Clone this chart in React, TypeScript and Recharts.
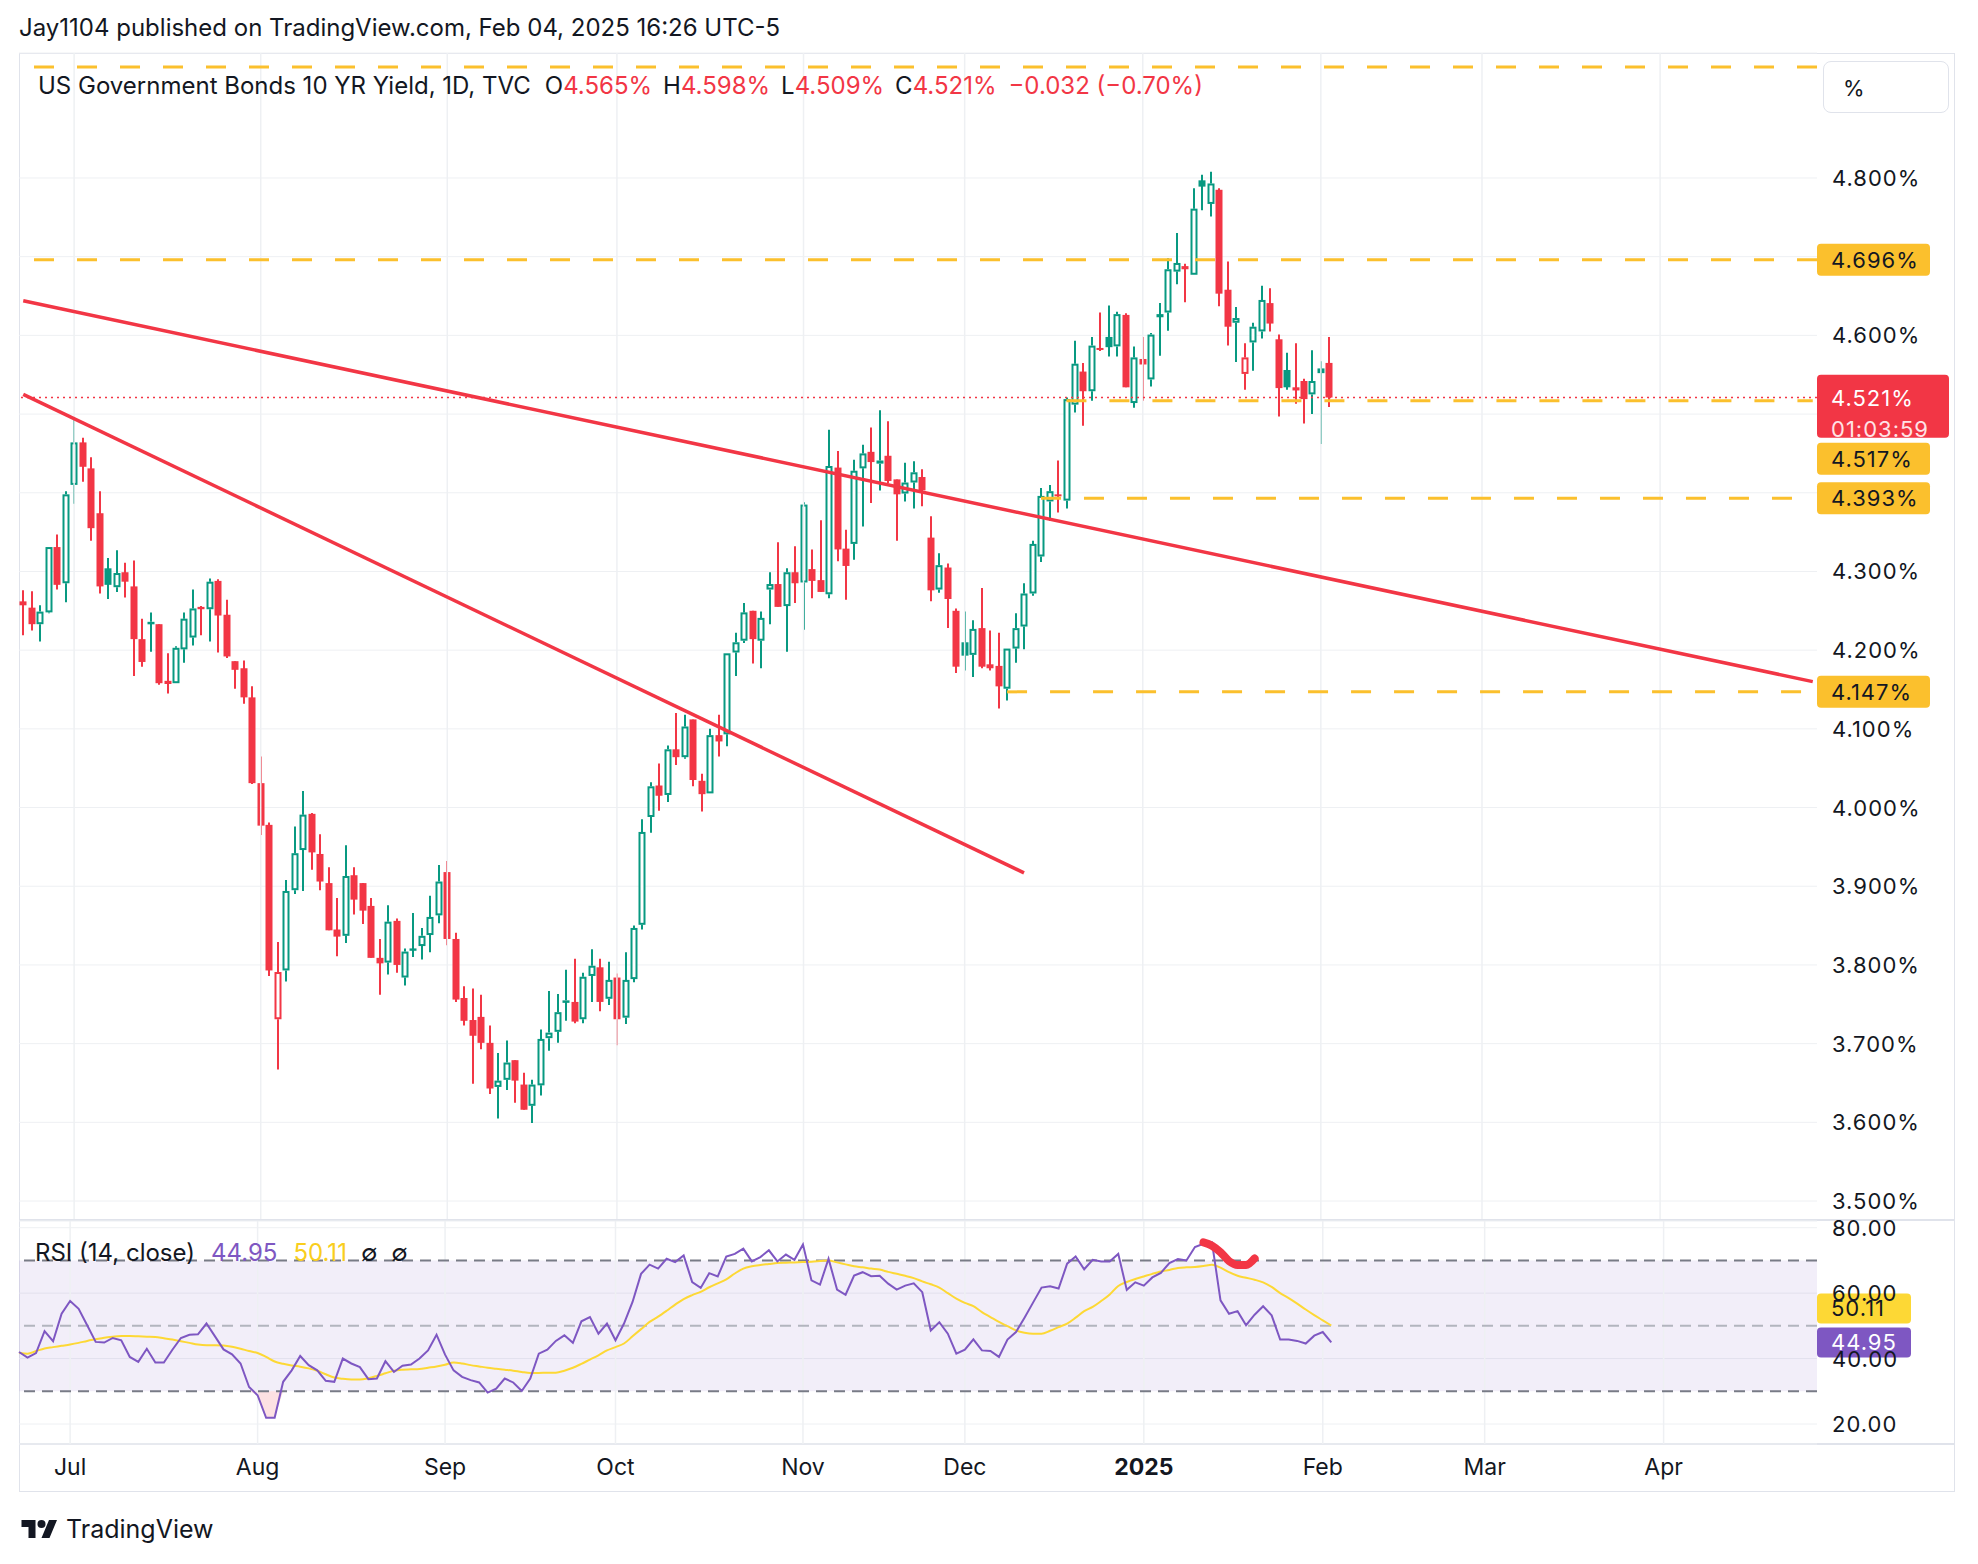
import React from 'react';
import { ComposedChart, Bar, Line, Area, XAxis, YAxis, CartesianGrid, ReferenceLine, ReferenceArea } from 'recharts';

// trading days shown (Jun 21 2024 .. Feb 4 2025)
const dates = [
  'Jun21', 'Jun24', 'Jun25', 'Jun26', 'Jun27', 'Jun28',
  'Jul1', 'Jul2', 'Jul3', 'Jul5', 'Jul8', 'Jul9', 'Jul10', 'Jul11', 'Jul12', 'Jul15', 'Jul16', 'Jul17', 'Jul18', 'Jul19', 'Jul22', 'Jul23', 'Jul24', 'Jul25', 'Jul26', 'Jul29', 'Jul30', 'Jul31',
  'Aug1', 'Aug2', 'Aug5', 'Aug6', 'Aug7', 'Aug8', 'Aug9', 'Aug12', 'Aug13', 'Aug14', 'Aug15', 'Aug16', 'Aug19', 'Aug20', 'Aug21', 'Aug22', 'Aug23', 'Aug26', 'Aug27', 'Aug28', 'Aug29', 'Aug30',
  'Sep3', 'Sep4', 'Sep5', 'Sep6', 'Sep9', 'Sep10', 'Sep11', 'Sep12', 'Sep13', 'Sep16', 'Sep17', 'Sep18', 'Sep19', 'Sep20', 'Sep23', 'Sep24', 'Sep25', 'Sep26', 'Sep27', 'Sep30',
  'Oct1', 'Oct2', 'Oct3', 'Oct4', 'Oct7', 'Oct8', 'Oct9', 'Oct10', 'Oct11', 'Oct15', 'Oct16', 'Oct17', 'Oct18', 'Oct21', 'Oct22', 'Oct23', 'Oct24', 'Oct25', 'Oct28', 'Oct29', 'Oct30', 'Oct31',
  'Nov1', 'Nov4', 'Nov5', 'Nov6', 'Nov7', 'Nov8', 'Nov12', 'Nov13', 'Nov14', 'Nov15', 'Nov18', 'Nov19', 'Nov20', 'Nov21', 'Nov22', 'Nov25', 'Nov26', 'Nov27', 'Nov29',
  'Dec2', 'Dec3', 'Dec4', 'Dec5', 'Dec6', 'Dec9', 'Dec10', 'Dec11', 'Dec12', 'Dec13', 'Dec16', 'Dec17', 'Dec18', 'Dec19', 'Dec20', 'Dec23', 'Dec24', 'Dec26', 'Dec27', 'Dec30', 'Dec31',
  'Jan2', 'Jan3', 'Jan6', 'Jan7', 'Jan8', 'Jan9', 'Jan10', 'Jan13', 'Jan14', 'Jan15', 'Jan16', 'Jan17', 'Jan21', 'Jan22', 'Jan23', 'Jan24', 'Jan27', 'Jan28', 'Jan29', 'Jan30', 'Jan31',
  'Feb3', 'Feb4',
];

const opens = [
  4.262, 4.254, 4.233, 4.248, 4.331, 4.285,
  4.410, 4.464, 4.431, 4.374, 4.304, 4.280, 4.299, 4.281, 4.214, 4.234, 4.233, 4.161, 4.158, 4.201, 4.216, 4.255, 4.252, 4.288, 4.245, 4.186, 4.177, 4.140,
  4.031, 3.978, 3.731, 3.793, 3.895, 3.946, 3.992, 3.941, 3.904, 3.845, 3.837, 3.914, 3.904, 3.875, 3.809, 3.803, 3.856, 3.784, 3.821, 3.824, 3.838, 3.863,
  3.918, 3.833, 3.758, 3.730, 3.734, 3.701, 3.645, 3.654, 3.679, 3.648, 3.621, 3.647, 3.707, 3.715, 3.753, 3.753, 3.731, 3.786, 3.797, 3.757,
  3.784, 3.733, 3.782, 3.851, 3.988, 4.028, 4.016, 4.074, 4.064, 4.112, 4.034, 4.018, 4.092, 4.093, 4.197, 4.212, 4.250, 4.212, 4.277, 4.284, 4.256, 4.299,
  4.286, 4.303, 4.289, 4.271, 4.432, 4.329, 4.335, 4.431, 4.452, 4.437, 4.447, 4.417, 4.399, 4.413, 4.420, 4.343, 4.277, 4.305, 4.250,
  4.210, 4.194, 4.228, 4.182, 4.180, 4.151, 4.202, 4.230, 4.272, 4.319, 4.389, 4.398, 4.390, 4.512, 4.554, 4.529, 4.584, 4.598, 4.586, 4.626, 4.514,
  4.570, 4.544, 4.627, 4.629, 4.681, 4.688, 4.677, 4.797, 4.767, 4.785, 4.658, 4.616, 4.551, 4.591, 4.605, 4.641, 4.595, 4.556, 4.534, 4.542, 4.525,
  4.558, 4.565,
];

const highs = [
  4.276, 4.275, 4.257, 4.331, 4.347, 4.402,
  4.494, 4.470, 4.445, 4.402, 4.317, 4.327, 4.311, 4.314, 4.240, 4.248, 4.233, 4.196, 4.205, 4.248, 4.277, 4.256, 4.291, 4.290, 4.264, 4.186, 4.187, 4.154,
  4.065, 3.981, 3.829, 3.908, 3.976, 4.021, 3.993, 3.966, 3.924, 3.885, 3.952, 3.924, 3.904, 3.885, 3.833, 3.876, 3.859, 3.821, 3.866, 3.847, 3.888, 3.927,
  3.932, 3.841, 3.773, 3.770, 3.762, 3.723, 3.688, 3.704, 3.679, 3.663, 3.654, 3.718, 3.767, 3.763, 3.794, 3.808, 3.790, 3.820, 3.808, 3.804,
  3.789, 3.816, 3.850, 3.985, 4.032, 4.056, 4.079, 4.120, 4.118, 4.112, 4.043, 4.100, 4.118, 4.196, 4.222, 4.260, 4.250, 4.249, 4.299, 4.337, 4.304, 4.332,
  4.388, 4.328, 4.365, 4.480, 4.453, 4.353, 4.442, 4.461, 4.483, 4.505, 4.491, 4.417, 4.438, 4.440, 4.430, 4.370, 4.323, 4.310, 4.253,
  4.249, 4.238, 4.279, 4.225, 4.222, 4.202, 4.247, 4.285, 4.339, 4.406, 4.410, 4.441, 4.521, 4.593, 4.565, 4.598, 4.629, 4.638, 4.630, 4.628, 4.586,
  4.598, 4.603, 4.641, 4.698, 4.730, 4.691, 4.787, 4.804, 4.808, 4.787, 4.694, 4.636, 4.590, 4.616, 4.663, 4.660, 4.601, 4.578, 4.590, 4.545, 4.581,
  4.567, 4.598,
];

const lows = [
  4.219, 4.225, 4.211, 4.247, 4.277, 4.261,
  4.386, 4.414, 4.339, 4.272, 4.265, 4.274, 4.267, 4.167, 4.179, 4.198, 4.156, 4.145, 4.158, 4.184, 4.206, 4.219, 4.211, 4.197, 4.190, 4.151, 4.132, 4.030,
  3.965, 3.786, 3.667, 3.779, 3.890, 3.894, 3.921, 3.895, 3.844, 3.811, 3.828, 3.864, 3.852, 3.809, 3.762, 3.788, 3.790, 3.774, 3.810, 3.807, 3.816, 3.853,
  3.825, 3.753, 3.723, 3.649, 3.693, 3.636, 3.605, 3.641, 3.625, 3.616, 3.599, 3.634, 3.691, 3.701, 3.729, 3.726, 3.726, 3.753, 3.741, 3.749,
  3.698, 3.725, 3.778, 3.845, 3.968, 3.996, 4.007, 4.054, 4.062, 4.027, 3.995, 4.018, 4.065, 4.078, 4.167, 4.209, 4.183, 4.177, 4.233, 4.255, 4.198, 4.260,
  4.226, 4.266, 4.274, 4.266, 4.313, 4.264, 4.315, 4.357, 4.387, 4.403, 4.412, 4.339, 4.389, 4.380, 4.383, 4.262, 4.273, 4.228, 4.171,
  4.174, 4.166, 4.177, 4.174, 4.126, 4.136, 4.184, 4.201, 4.269, 4.312, 4.364, 4.375, 4.380, 4.502, 4.485, 4.517, 4.580, 4.573, 4.573, 4.534, 4.508,
  4.517, 4.535, 4.574, 4.606, 4.665, 4.642, 4.677, 4.759, 4.751, 4.637, 4.587, 4.566, 4.531, 4.555, 4.596, 4.605, 4.497, 4.531, 4.513, 4.488, 4.500,
  4.462, 4.509,
];

const closes = [
  4.257, 4.233, 4.249, 4.331, 4.283, 4.398,
  4.464, 4.433, 4.355, 4.281, 4.283, 4.298, 4.287, 4.214, 4.185, 4.236, 4.158, 4.157, 4.203, 4.240, 4.253, 4.252, 4.287, 4.244, 4.192, 4.175, 4.140, 4.031,
  3.977, 3.793, 3.791, 3.894, 3.942, 3.991, 3.943, 3.906, 3.844, 3.836, 3.913, 3.883, 3.869, 3.809, 3.802, 3.855, 3.800, 3.817, 3.818, 3.837, 3.861, 3.906,
  3.833, 3.756, 3.729, 3.710, 3.701, 3.643, 3.653, 3.676, 3.653, 3.616, 3.648, 3.706, 3.714, 3.740, 3.755, 3.728, 3.785, 3.799, 3.753, 3.781,
  3.731, 3.781, 3.847, 3.969, 4.027, 4.015, 4.074, 4.064, 4.103, 4.035, 4.017, 4.092, 4.084, 4.196, 4.210, 4.248, 4.214, 4.241, 4.284, 4.255, 4.299, 4.285,
  4.385, 4.288, 4.274, 4.434, 4.328, 4.307, 4.428, 4.450, 4.439, 4.441, 4.415, 4.398, 4.413, 4.426, 4.403, 4.276, 4.308, 4.265, 4.179,
  4.193, 4.227, 4.179, 4.177, 4.154, 4.202, 4.228, 4.272, 4.335, 4.396, 4.402, 4.396, 4.519, 4.564, 4.529, 4.587, 4.582, 4.585, 4.627, 4.534, 4.572,
  4.563, 4.601, 4.623, 4.684, 4.692, 4.684, 4.761, 4.789, 4.793, 4.653, 4.611, 4.622, 4.572, 4.611, 4.645, 4.615, 4.533, 4.534, 4.530, 4.519, 4.542,
  4.552, 4.521,
];

const rsiValues = [
  42.0, 40.3, 41.7, 48.4, 45.3, 53.7,
  57.6, 55.2, 50.2, 45.1, 44.9, 46.3, 45.6, 40.5, 39.0, 43.0, 38.8, 38.8, 42.7, 46.3, 47.3, 47.4, 50.7, 46.8, 42.8, 41.3, 38.5, 31.3,
  28.8, 21.9, 21.9, 32.9, 36.4, 40.8, 38.0, 36.4, 33.2, 32.9, 40.0, 38.5, 37.4, 33.7, 33.9, 39.2, 35.9, 37.8, 38.2, 40.0, 42.5, 47.3,
  41.2, 36.4, 34.4, 33.4, 32.7, 29.6, 30.8, 33.9, 32.7, 30.1, 33.9, 41.5, 42.7, 45.4, 47.1, 44.8, 51.4, 52.7, 47.6, 50.7,
  45.6, 50.7, 57.3, 65.9, 68.7, 67.5, 70.5, 69.5, 71.5, 63.4, 61.6, 66.1, 65.1, 71.2, 72.0, 73.6, 69.7, 71.0, 73.1, 69.7, 71.8, 70.2,
  74.9, 63.9, 62.6, 70.5, 61.1, 59.5, 65.4, 66.4, 65.2, 65.3, 62.9, 61.1, 62.3, 63.0, 60.3, 48.6, 51.1, 47.6, 41.5,
  42.7, 45.9, 42.5, 42.3, 40.5, 45.8, 48.1, 52.5, 57.1, 61.7, 62.1, 61.4, 69.0, 71.2, 67.3, 70.2, 69.7, 69.7, 72.0, 61.0, 63.3,
  62.3, 64.8, 66.2, 69.2, 70.4, 70.0, 74.1, 75.1, 75.5, 57.8, 53.7, 54.5, 50.2, 53.4, 56.0, 53.2, 45.8, 45.8, 45.4, 44.6, 47.0,
  48.1, 44.95,
];

const rsiMaValues = [
  41.8, 41.5, 42.3, 43.1, 43.5, 43.9,
  44.3, 44.8, 45.4, 45.9, 46.4, 46.7, 46.9, 46.9, 46.8, 46.7, 46.6, 46.2, 45.8, 45.3, 44.8, 44.3, 44.1, 44.1, 44.0, 43.6, 43.0, 42.3,
  41.7, 40.5, 39.1, 38.4, 37.9, 37.5, 37.0, 36.3, 35.2, 34.2, 33.8, 33.6, 33.6, 34.0, 34.7, 35.5, 36.3, 36.6, 36.7, 36.8, 37.2, 37.6,
  38.1, 38.8, 38.5, 38.0, 37.6, 37.2, 36.9, 36.6, 36.3, 35.9, 35.6, 35.6, 35.7, 35.7, 36.3, 37.2, 38.4, 39.7, 41.0, 42.5,
  43.5, 44.6, 46.8, 49.0, 51.2, 52.8, 54.6, 56.5, 58.2, 59.4, 60.4, 61.8, 63.0, 64.2, 66.0, 67.5, 68.2, 68.6, 68.9, 69.2, 69.3, 69.4,
  69.5, 69.6, 69.8, 70.0, 69.4, 68.8, 68.2, 67.9, 67.5, 67.2, 66.5, 65.9, 65.3, 64.6, 63.6, 62.7, 61.7, 60.0, 58.3,
  57.0, 56.0, 54.2, 52.7, 51.2, 49.9, 48.6, 47.9, 47.6, 47.6, 48.5, 49.6, 50.7, 52.5, 54.5, 55.8, 57.6, 59.6, 62.2, 63.4, 64.3,
  65.1, 65.9, 66.6, 67.1, 67.7, 67.9, 68.0, 68.3, 68.7, 67.8, 66.4, 65.3, 64.7, 64.1, 63.3, 61.9, 60.0, 58.5, 56.8, 55.0, 53.3,
  51.7, 50.11,
];

// hand-drawn red hook on the RSI pane
const brushSlots = [139, 140, 141, 142, 143, 144, 145];
const brushValues = [75.5, 74.5, 72.5, 69.8, 68.6, 68.6, 70.6];

const monthTickSlots = [6, 28, 50, 70, 92, 111, 132, 153, 172, 193];
const monthTickLabels = ['Jul', 'Aug', 'Sep', 'Oct', 'Nov', 'Dec', '2025', 'Feb', 'Mar', 'Apr'];

const priceTicks = [3.5, 3.6, 3.7, 3.8, 3.9, 4.0, 4.1, 4.2, 4.3, 4.4, 4.5, 4.6, 4.7, 4.8];
// scale labels hidden behind the price badges
const hiddenPriceLabels = [4.4, 4.5, 4.7];
const rsiTicks = [20, 40, 60, 80];

const TOTAL_SLOTS = 212; // trading days + empty future slots up to late April

const GREEN = '#089981';
const RED = '#F23645';
const ORANGE = '#FBC02D';
const PURPLE = '#7E57C2';
const YELLOW = '#FDD835';
const TEXT = '#131722';
const GRID = '#eef0f3';
const BORDER = '#e0e3eb';
const FONT = 'Inter, "Noto Sans", sans-serif';

const rows = Array.from({ length: TOTAL_SLOTS }, (_, i) => {
  if (i < dates.length) {
    const bi = brushSlots.indexOf(i);
    return {
      slot: i,
      date: dates[i],
      o: opens[i],
      h: highs[i],
      l: lows[i],
      c: closes[i],
      prev: i > 0 ? closes[i - 1] : opens[i],
      range: [lows[i], highs[i]],
      rsi: rsiValues[i],
      rsiMa: rsiMaValues[i],
      os: [Math.min(rsiValues[i], 30), 30],
      brush: bi >= 0 ? brushValues[bi] : null,
    };
  }
  return { slot: i, range: null, rsi: null, rsiMa: null, os: null, brush: null };
});

function Candle(props: any) {
  const { x, y, width, height, payload } = props;
  if (!payload || payload.o == null) return null;
  const top = Math.min(y, y + height);
  const bot = Math.max(y, y + height);
  const span = payload.h - payload.l;
  const toY = (p: number) => (span > 0 ? top + ((payload.h - p) / span) * (bot - top) : top);
  const cx = Math.round(x + width / 2);
  const color = payload.c >= payload.prev ? GREEN : RED;
  const hollow = payload.c > payload.o;
  const yO = toY(payload.o);
  const yC = toY(payload.c);
  const bTop = Math.min(yO, yC);
  const bBot = Math.max(yO, yC);
  const bw = 7;
  if (hollow) {
    return (
      <g>
        <line x1={cx} x2={cx} y1={top} y2={bTop} stroke={color} strokeWidth={2} />
        <line x1={cx} x2={cx} y1={bBot} y2={bot} stroke={color} strokeWidth={2} />
        <rect x={cx - bw / 2 + 1} y={bTop + 1} width={bw - 2} height={Math.max(bBot - bTop - 2, 0.5)} fill="#ffffff" stroke={color} strokeWidth={2} />
      </g>
    );
  }
  return (
    <g>
      <line x1={cx} x2={cx} y1={top} y2={bot} stroke={color} strokeWidth={2} />
      <rect x={cx - bw / 2} y={bTop} width={bw} height={Math.max(bBot - bTop, 2)} fill={color} />
    </g>
  );
}

function PriceTick(props: any) {
  const { x, y, payload } = props;
  if (hiddenPriceLabels.includes(payload.value)) return <g />;
  return (
    <text x={x} y={y} dominantBaseline="central" textAnchor="start" fontSize={22} letterSpacing={1} fill={TEXT} fontFamily={FONT}>
      {payload.value.toFixed(3)}%
    </text>
  );
}

function RsiTick(props: any) {
  const { x, y, payload } = props;
  return (
    <text x={x} y={y} dominantBaseline="central" textAnchor="start" fontSize={22} letterSpacing={1} fill={TEXT} fontFamily={FONT}>
      {payload.value.toFixed(2)}
    </text>
  );
}

function TimeTick(props: any) {
  const { x, y, payload } = props;
  const k = monthTickSlots.indexOf(payload.value);
  if (k < 0) return <g />;
  const label = monthTickLabels[k];
  return (
    <text x={x} y={y + 23} dominantBaseline="central" textAnchor="middle" fontSize={23} fontWeight={label === '2025' ? 700 : 400} fill={TEXT} fontFamily={FONT}>
      {label}
    </text>
  );
}

function makeBadge(text: string, bg: string, color: string, w: number, h: number, dy = 0, sub?: string) {
  return (props: any) => {
    const vb = props.viewBox || {};
    const left = (vb.x || 0) + (vb.width || 0);
    const cy = (vb.y || 0) + dy;
    const top = sub ? cy - h / 4 - 7 : cy - h / 2;
    return (
      <g>
        <rect x={left} y={top} width={w} height={h} rx={4} fill={bg} />
        <text x={left + 14} y={cy} dominantBaseline="central" fontSize={22} letterSpacing={1} fill={color} fontFamily={FONT}>
          {text}
        </text>
        {sub && (
          <text x={left + 14} y={cy + 31} dominantBaseline="central" fontSize={22} letterSpacing={1} fill="#ffe3e6" fontFamily={FONT}>
            {sub}
          </text>
        )}
      </g>
    );
  };
}

const dashed = { stroke: ORANGE, strokeWidth: 3, strokeDasharray: '20 23' };

export default function App() {
  return (
    <div style={{ position: 'absolute', left: 0, top: 0, width: 1978, height: 1564, background: '#ffffff', fontFamily: FONT, color: TEXT, overflow: 'hidden' }}>
      <style>{'.recharts-surface { overflow: visible; }'}</style>
      <div style={{ position: 'absolute', left: 19, top: 13, fontSize: 24, lineHeight: '30px', whiteSpace: 'nowrap' }}>
        Jay1104 published on TradingView.com, Feb 04, 2025 16:26 UTC-5
      </div>

      {/* chart frame */}
      <div style={{ position: 'absolute', left: 19, top: 53, width: 1936, height: 1439, border: `1px solid ${BORDER}`, boxSizing: 'border-box' }} />

      {/* price pane */}
      <div style={{ position: 'absolute', left: 19, top: 53 }}>
        <ComposedChart width={1936} height={1167} data={rows} margin={{ top: 0, right: 0, bottom: 0, left: 0 }}>
          <CartesianGrid vertical={false} stroke={GRID} />
          {monthTickSlots.map((s) => (
            <ReferenceLine key={`vg${s}`} x={s} stroke={GRID} strokeWidth={1.5} />
          ))}
          <XAxis dataKey="slot" hide />
          <YAxis
            orientation="right"
            width={138}
            domain={[3.4759, 4.9588]}
            allowDataOverflow
            ticks={priceTicks}
            tick={<PriceTick />}
            tickSize={0}
            tickMargin={15}
            axisLine={false}
            tickLine={false}
            interval={0}
          />
          <Bar dataKey="range" shape={<Candle />} isAnimationActive={false} />
          <ReferenceLine y={4.941} {...dashed} />
          <ReferenceLine y={4.696} {...dashed} />
          <ReferenceLine segment={[{ x: 123, y: 4.517 }, { x: 211, y: 4.517 }]} {...dashed} />
          <ReferenceLine segment={[{ x: 120, y: 4.393 }, { x: 211, y: 4.393 }]} {...dashed} />
          <ReferenceLine segment={[{ x: 116, y: 4.147 }, { x: 211, y: 4.147 }]} {...dashed} />
          <ReferenceLine y={4.521} stroke={RED} strokeWidth={1.6} strokeDasharray="2 4" />
          <ReferenceLine segment={[{ x: 0, y: 4.644 }, { x: 211, y: 4.16 }]} stroke={RED} strokeWidth={3.5} />
          <ReferenceLine segment={[{ x: 0, y: 4.525 }, { x: 118, y: 3.917 }]} stroke={RED} strokeWidth={3.5} />
          <ReferenceLine y={4.696} stroke="none" label={makeBadge('4.696%', ORANGE, TEXT, 113, 32)} />
          <ReferenceLine y={4.393} stroke="none" label={makeBadge('4.393%', ORANGE, TEXT, 113, 32)} />
          <ReferenceLine y={4.147} stroke="none" label={makeBadge('4.147%', ORANGE, TEXT, 113, 32)} />
          <ReferenceLine y={4.517} stroke="none" label={makeBadge('4.517%', ORANGE, TEXT, 113, 32, 58)} />
          <ReferenceLine y={4.521} stroke="none" label={makeBadge('4.521%', RED, '#ffffff', 132, 63, 0, '01:03:59')} />
        </ComposedChart>
      </div>

      {/* legend */}
      <div style={{ position: 'absolute', left: 38, top: 71, fontSize: 24, lineHeight: '30px', whiteSpace: 'nowrap' }}>
        <span>US Government Bonds 10 YR Yield, 1D, TVC</span>
        <span style={{ marginLeft: 14 }}>O</span><span style={{ color: RED }}>4.565%</span>
        <span style={{ marginLeft: 11 }}>H</span><span style={{ color: RED }}>4.598%</span>
        <span style={{ marginLeft: 11 }}>L</span><span style={{ color: RED }}>4.509%</span>
        <span style={{ marginLeft: 11 }}>C</span><span style={{ color: RED }}>4.521%</span>
        <span style={{ marginLeft: 12, color: RED }}>−0.032 (−0.70%)</span>
      </div>

      {/* % box */}
      <div style={{ position: 'absolute', left: 1823, top: 61, width: 126, height: 52, border: `1px solid ${BORDER}`, borderRadius: 8, boxSizing: 'border-box', background: '#fff' }}>
        <div style={{ position: 'absolute', left: 19, top: 11, fontSize: 22, lineHeight: '30px' }}>%</div>
      </div>

      {/* pane separators */}
      <div style={{ position: 'absolute', left: 19, top: 1219, width: 1936, height: 2, background: BORDER }} />
      <div style={{ position: 'absolute', left: 19, top: 1443, width: 1936, height: 2, background: BORDER }} />

      {/* RSI pane + time axis */}
      <div style={{ position: 'absolute', left: 19, top: 1221 }}>
        <ComposedChart width={1936} height={271} data={rows} margin={{ top: 0, right: 0, bottom: 0, left: 0 }}>
          <CartesianGrid vertical={false} stroke={GRID} />
          {monthTickSlots.map((s) => (
            <ReferenceLine key={`rv${s}`} x={s} stroke={GRID} strokeWidth={1.5} />
          ))}
          <ReferenceArea y1={30} y2={70} fill={PURPLE} fillOpacity={0.1} stroke="none" />
          <XAxis
            dataKey="slot"
            height={48}
            interval={0}
            tick={<TimeTick />}
            tickSize={0}
            tickMargin={0}
            axisLine={false}
            tickLine={false}
          />
          <YAxis
            orientation="right"
            width={138}
            domain={[13.89, 82.05]}
            allowDataOverflow
            ticks={rsiTicks}
            tick={<RsiTick />}
            tickSize={0}
            tickMargin={15}
            axisLine={false}
            tickLine={false}
            interval={0}
          />
          <ReferenceLine y={70} stroke="#787b86" strokeWidth={2} strokeDasharray="11 7" />
          <ReferenceLine y={50} stroke="#b2b5be" strokeWidth={2} strokeDasharray="11 7" />
          <ReferenceLine y={30} stroke="#787b86" strokeWidth={2} strokeDasharray="11 7" />
          <Area dataKey="os" type="linear" stroke="none" fill={RED} fillOpacity={0.15} isAnimationActive={false} connectNulls={false} />
          <Line dataKey="rsiMa" type="monotone" stroke={YELLOW} strokeWidth={2} dot={false} isAnimationActive={false} />
          <Line dataKey="rsi" type="linear" stroke={PURPLE} strokeWidth={2} dot={false} isAnimationActive={false} />
          <Line dataKey="brush" type="monotone" stroke={RED} strokeWidth={8} strokeLinecap="round" dot={false} isAnimationActive={false} connectNulls />
          <ReferenceLine y={50.11} stroke="none" label={makeBadge('50.11', YELLOW, TEXT, 94, 30, -17)} />
          <ReferenceLine y={44.95} stroke="none" label={makeBadge('44.95', PURPLE, '#ffffff', 94, 30)} />
        </ComposedChart>
      </div>

      {/* RSI legend */}
      <div style={{ position: 'absolute', left: 35, top: 1238, fontSize: 24, lineHeight: '30px', whiteSpace: 'nowrap' }}>
        <span>RSI (14, close)</span>
        <span style={{ marginLeft: 16, color: PURPLE }}>44.95</span>
        <span style={{ marginLeft: 16, color: '#F9CE1D' }}>50.11</span>
        <span style={{ marginLeft: 14 }}>∅</span>
        <span style={{ marginLeft: 14 }}>∅</span>
      </div>

      {/* TradingView logo */}
      <svg style={{ position: 'absolute', left: 21, top: 1516 }} width={37} height={26} viewBox="0 0 36 26">
        <path d="M14 22H7V11H0V4h14v18zM28 22h-8l7.5-18h8L28 22z" fill={TEXT} />
        <circle cx={20} cy={8} r={4} fill={TEXT} />
      </svg>
      <div style={{ position: 'absolute', left: 66, top: 1514, fontSize: 25, lineHeight: '30px', color: TEXT }}>TradingView</div>
    </div>
  );
}
